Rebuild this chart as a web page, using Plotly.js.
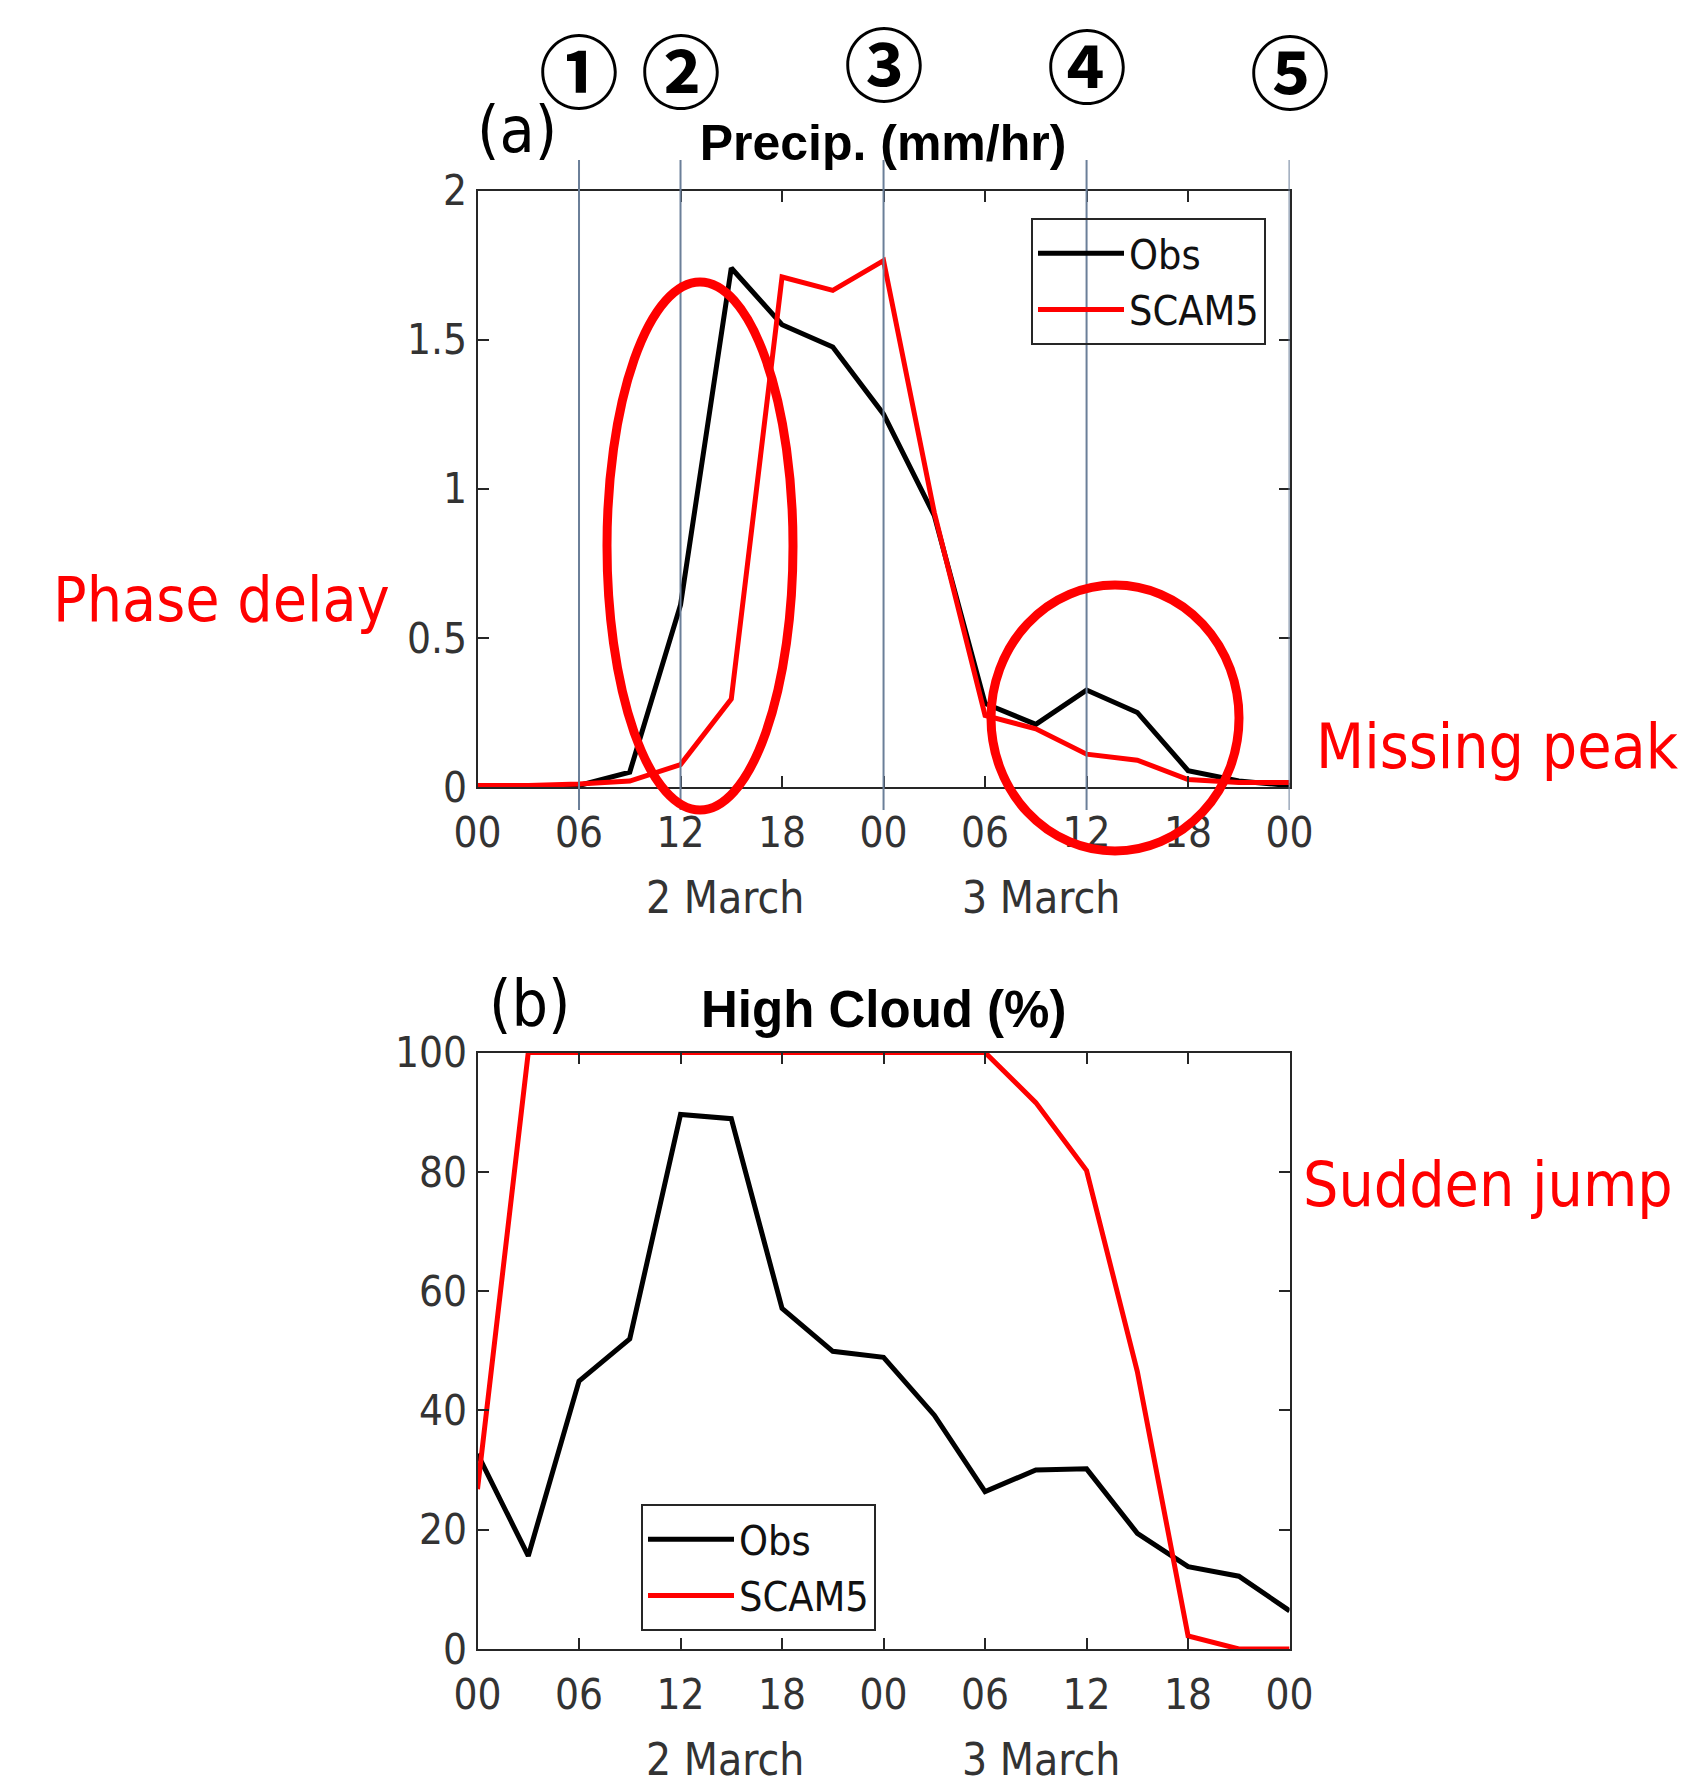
<!DOCTYPE html>
<html>
<head>
<meta charset="utf-8">
<script src="https://cdn.plot.ly/plotly-3.0.1.min.js"></script>
<style>html,body{margin:0;padding:0;background:#fff;}</style>
</head>
<body>
<div id="chart" style="width:1690px;height:1778px;"></div>
<script>
// ---- data (hours since 00 UTC, 2 March) ----
var hours = [0, 3, 6, 9, 12, 15, 18, 21, 24, 27, 30, 33, 36, 39, 42, 45, 48];
var hourTickVals = [0, 6, 12, 18, 24, 30, 36, 42, 48];
var hourTickText = ['00', '06', '12', '18', '00', '06', '12', '18', '00'];
var precipObs  = [0, 0, 0.005, 0.05, 0.61, 1.74, 1.55, 1.475, 1.25, 0.91, 0.28, 0.21, 0.325, 0.25, 0.055, 0.02, 0.005];
var precipScam = [0.005, 0.005, 0.01, 0.02, 0.075, 0.295, 1.71, 1.665, 1.765, 0.92, 0.24, 0.195, 0.11, 0.09, 0.025, 0.015, 0.015];
var cloudObs   = [32.7, 15.6, 44.9, 52, 89.6, 88.9, 57.1, 49.9, 48.9, 39.2, 26.4, 30, 30.2, 19.4, 13.8, 12.2, 6.4];
var cloudScam  = [26.8, 100, 100, 100, 100, 100, 100, 100, 100, 100, 100, 91.6, 80.2, 46.5, 2.2, 0, 0];
var precipTicks = [0, 0.5, 1, 1.5, 2];
var precipTickText = ['0', '0.5', '1', '1.5', '2'];
var cloudTicks = [0, 20, 40, 60, 80, 100];
var stageHours = [6, 12, 24, 36, 48];
var stageLabels = ['\u2460', '\u2461', '\u2462', '\u2463', '\u2464'];
var dayLabels = ['2 March', '3 March'];
var dayLabelHours = [14.6, 33.3];
var seriesNames = ['Obs', 'SCAM5'];

// ---- helpers: figure pixel -> paper fraction ----
var W = 1690, H = 1778;
function px(x) { return x / W; }
function py(y) { return 1 - y / H; }

var NARROW = '"Liberation Sans Narrow", "Arial Narrow", "DejaVu Sans Condensed", "Liberation Sans", sans-serif';
var BOLD = '"Liberation Sans", Arial, sans-serif';
var AX = '#262626';
var TICKC = '#333333';

function xAxis(anchor) {
  return {
    anchor: anchor, domain: [px(477.5), px(1289.6)], range: [0, 48],
    tickmode: 'array', tickvals: hourTickVals, ticktext: hourTickText,
    ticks: 'inside', ticklen: 11, tickwidth: 2, tickcolor: AX,
    showline: true, linecolor: AX, linewidth: 2, mirror: 'ticks',
    showgrid: false, zeroline: false, fixedrange: true,
    ticklabelstandoff: 8,
    tickfont: {family: NARROW, size: 42, color: TICKC}
  };
}
function yAxis(anchor, domain, range, vals, text) {
  return {
    anchor: anchor, domain: domain, range: range,
    tickmode: 'array', tickvals: vals, ticktext: text,
    ticks: 'inside', ticklen: 11, tickwidth: 2, tickcolor: AX,
    showline: true, linecolor: AX, linewidth: 2, mirror: 'ticks',
    showgrid: false, zeroline: false, fixedrange: true,
    ticklabelstandoff: 0,
    tickfont: {family: NARROW, size: 42, color: TICKC}
  };
}

var traces = [
  {x: hours, y: precipObs, name: seriesNames[0], type: 'scatter', mode: 'lines',
   line: {color: '#000000', width: 5}, xaxis: 'x', yaxis: 'y', legend: 'legend', cliponaxis: false},
  {x: hours, y: precipScam, name: seriesNames[1], type: 'scatter', mode: 'lines',
   line: {color: '#ff0000', width: 5}, xaxis: 'x', yaxis: 'y', legend: 'legend', cliponaxis: false},
  {x: hours, y: cloudObs, name: seriesNames[0], type: 'scatter', mode: 'lines',
   line: {color: '#000000', width: 5}, xaxis: 'x2', yaxis: 'y2', legend: 'legend2', cliponaxis: false},
  {x: hours, y: cloudScam, name: seriesNames[1], type: 'scatter', mode: 'lines',
   line: {color: '#ff0000', width: 5}, xaxis: 'x2', yaxis: 'y2', legend: 'legend2', cliponaxis: false}
];

var shapes = [];
stageHours.forEach(function (h) {
  shapes.push({type: 'line', xref: 'x', yref: 'paper', x0: h, x1: h, y0: py(810), y1: py(160),
    line: {color: '#6b7f99', width: 2}, layer: 'above'});
});
shapes.push({type: 'circle', xref: 'paper', yref: 'paper',
  x0: px(607), x1: px(793), y0: py(810), y1: py(282), line: {color: '#ff0000', width: 9}, layer: 'above'});
shapes.push({type: 'circle', xref: 'paper', yref: 'paper',
  x0: px(991), x1: px(1239), y0: py(851), y1: py(585), line: {color: '#ff0000', width: 9}, layer: 'above'});

var annotations = [];
var stageY = [67, 67, 60, 62, 68];
stageHours.forEach(function (h, i) {
  annotations.push({text: stageLabels[i], xref: 'x', yref: 'paper', x: h, y: py(stageY[i]),
    xanchor: 'center', yanchor: 'middle', showarrow: false,
    font: {family: '"Noto Sans CJK SC", "Noto Sans", sans-serif', size: 80, color: '#000', weight: 'bold'}});
});
dayLabels.forEach(function (t, i) {
  annotations.push({text: t, xref: 'x', yref: 'paper', x: dayLabelHours[i], y: py(897),
    xanchor: 'center', yanchor: 'middle', showarrow: false,
    font: {family: NARROW, size: 44, color: TICKC}});
  annotations.push({text: t, xref: 'x2', yref: 'paper', x: dayLabelHours[i], y: py(1759),
    xanchor: 'center', yanchor: 'middle', showarrow: false,
    font: {family: NARROW, size: 44, color: TICKC}});
});
annotations.push({text: '<b>High Cloud (%)</b>', xref: 'paper', yref: 'paper', x: px(883), y: py(1009),
  xanchor: 'center', yanchor: 'middle', showarrow: false, font: {family: BOLD, size: 51, color: '#000'}});
annotations.push({text: '(a)', xref: 'paper', yref: 'paper', x: px(517), y: py(130),
  xanchor: 'center', yanchor: 'middle', showarrow: false, font: {family: NARROW, size: 64, color: '#000'}});
annotations.push({text: '(b)', xref: 'paper', yref: 'paper', x: px(530), y: py(1004),
  xanchor: 'center', yanchor: 'middle', showarrow: false, font: {family: NARROW, size: 64, color: '#000'}});
annotations.push({text: 'Phase delay', xref: 'paper', yref: 'paper', x: px(221), y: py(599),
  xanchor: 'center', yanchor: 'middle', showarrow: false, font: {family: NARROW, size: 62, color: '#ff0000'}});
annotations.push({text: 'Missing peak', xref: 'paper', yref: 'paper', x: px(1497), y: py(747),
  xanchor: 'center', yanchor: 'middle', showarrow: false, font: {family: NARROW, size: 62, color: '#ff0000'}});
annotations.push({text: 'Sudden jump', xref: 'paper', yref: 'paper', x: px(1488), y: py(1184),
  xanchor: 'center', yanchor: 'middle', showarrow: false, font: {family: NARROW, size: 62, color: '#ff0000'}});

var legendCommon = {
  xanchor: 'left', yanchor: 'top', bordercolor: AX, borderwidth: 2, bgcolor: 'rgba(0,0,0,0)',
  font: {family: NARROW, size: 41, color: '#111'}, tracegroupgap: 0, itemwidth: 86
};

var layout = {
  width: W, height: H,
  margin: {l: 0, r: 0, t: 0, b: 0},
  paper_bgcolor: '#ffffff', plot_bgcolor: '#ffffff',
  title: {text: '<b>Precip. (mm/hr)</b>', x: px(883), xanchor: 'center', xref: 'paper',
          y: py(142), yanchor: 'middle', yref: 'container',
          font: {family: BOLD, size: 50, color: '#000'}},
  xaxis: xAxis('y'),
  yaxis: yAxis('x', [py(787), py(190.5)], [0, 2], precipTicks, precipTickText),
  xaxis2: xAxis('y2'),
  yaxis2: yAxis('x2', [py(1649), py(1052.5)], [0, 100], cloudTicks, cloudTicks.map(String)),
  showlegend: true,
  legend: Object.assign({x: px(1031), y: py(218)}, legendCommon),
  legend2: Object.assign({x: px(641), y: py(1504)}, legendCommon),
  shapes: shapes,
  annotations: annotations
};

Plotly.newPlot('chart', traces, layout, {displayModeBar: false, staticPlot: true});
</script>
</body>
</html>
